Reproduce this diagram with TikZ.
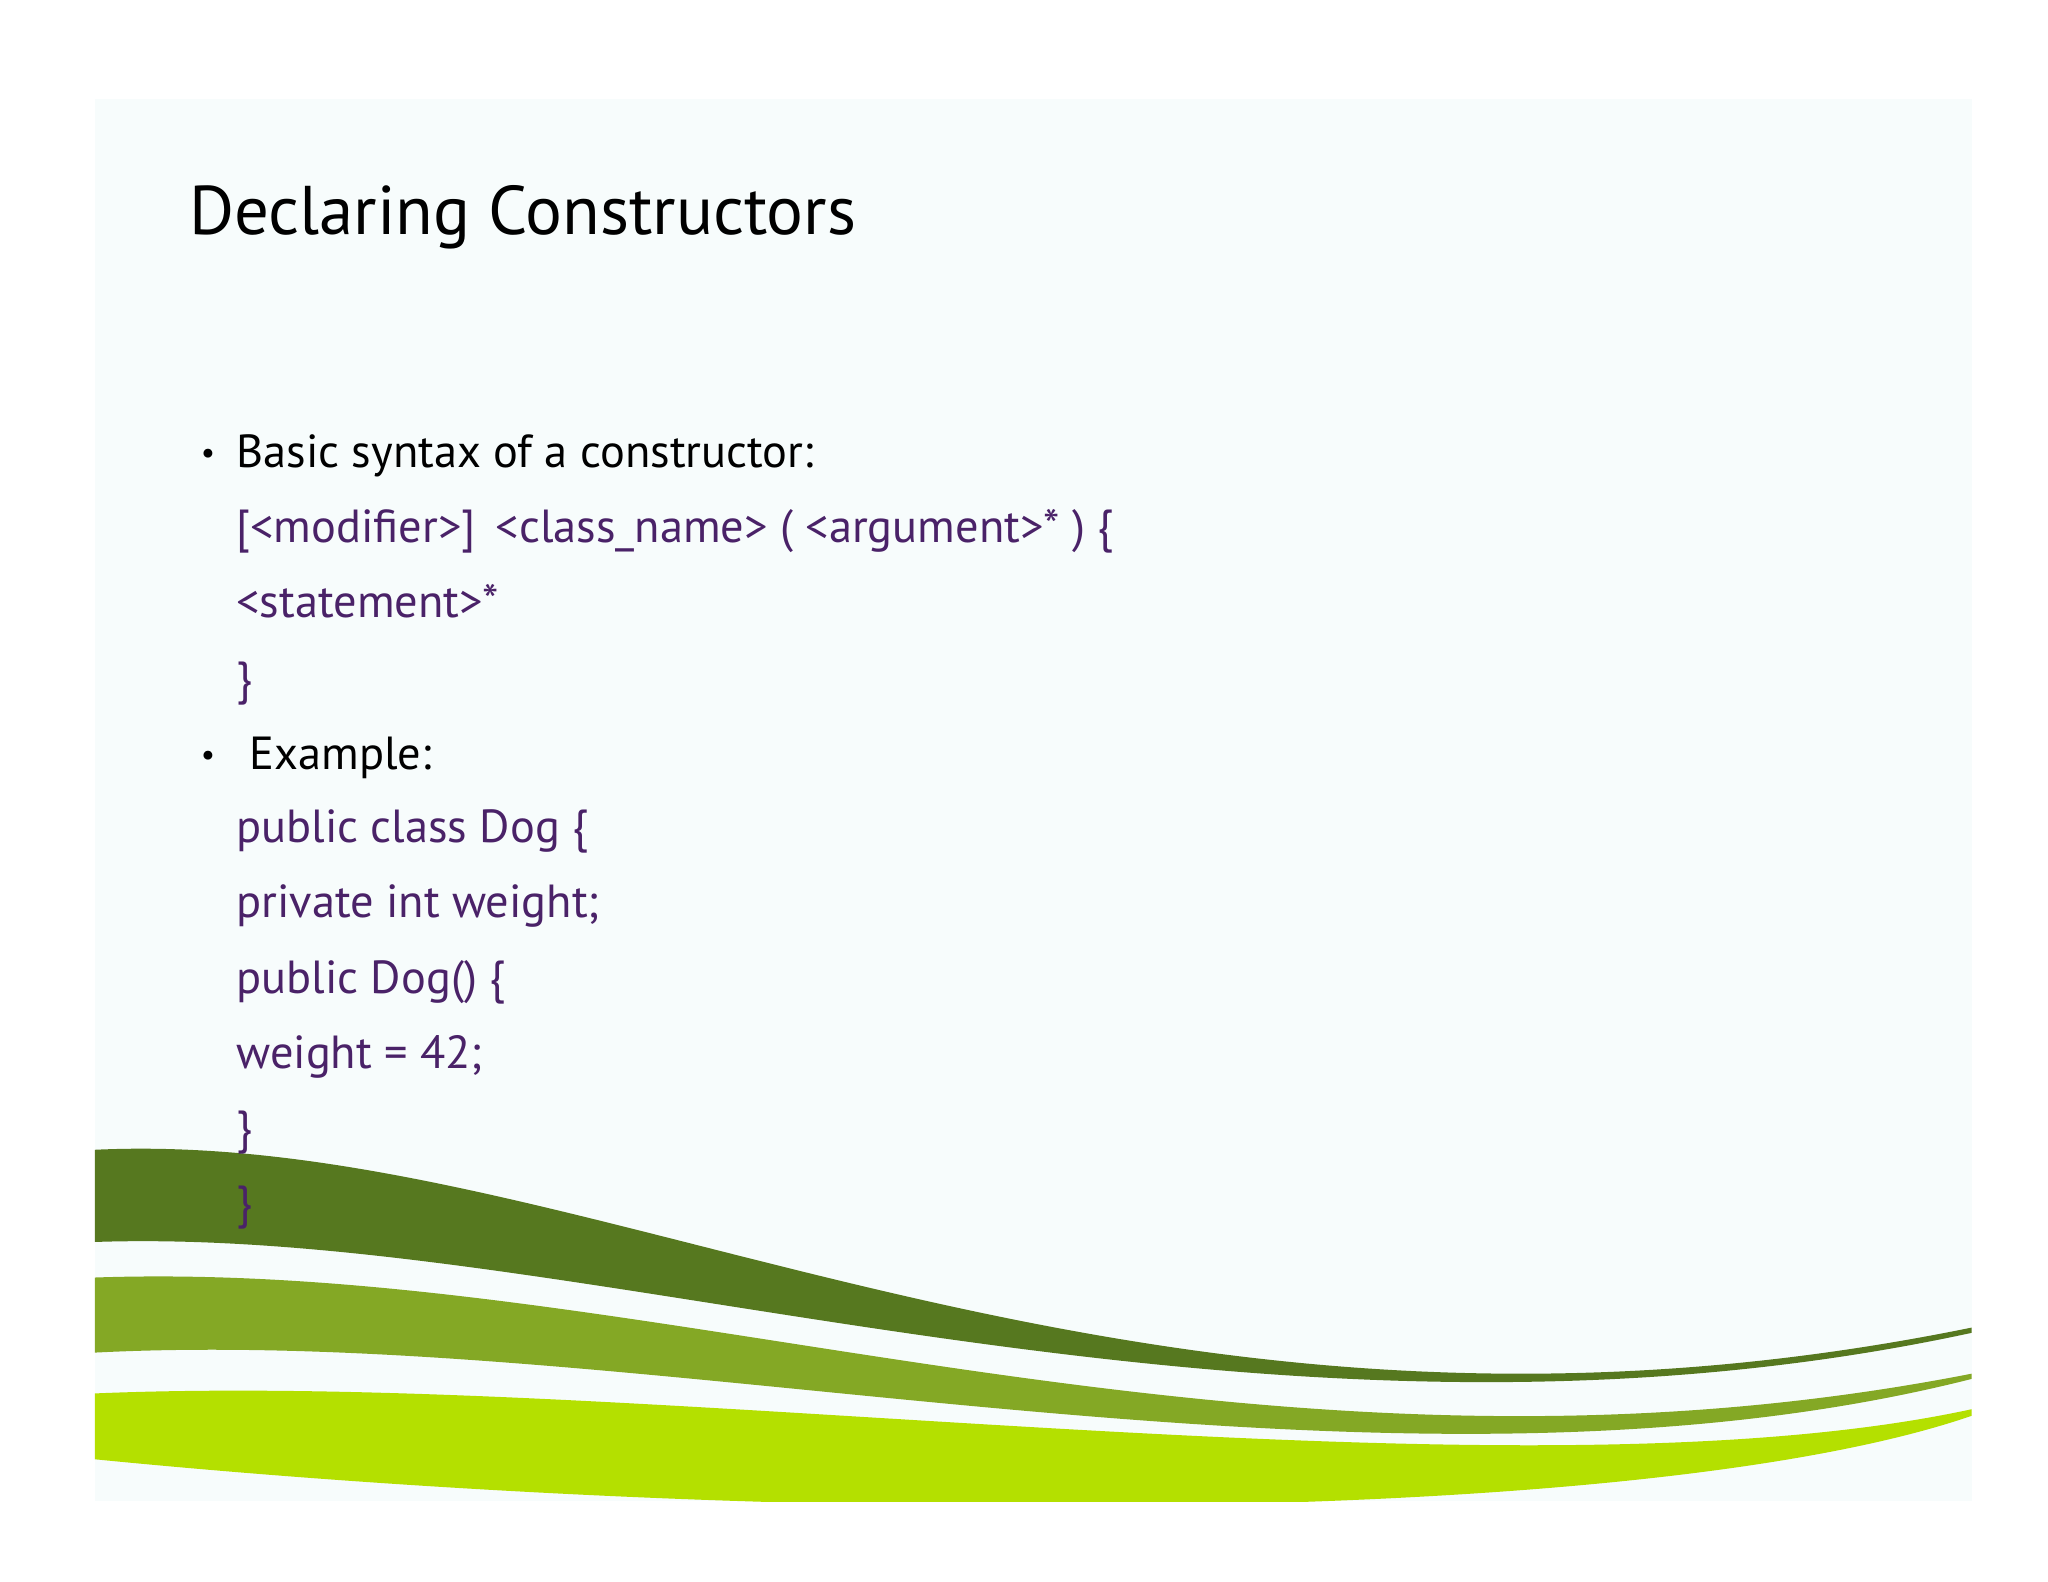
\documentclass[tikz,border=0pt]{standalone}
\usepackage{fontspec}
\setmainfont{PT Sans}
\usetikzlibrary{positioning}
\definecolor{slidebg}{HTML}{F7FCFC}
\definecolor{codepurple}{HTML}{4A2268}
\definecolor{darkwave}{HTML}{56781F}
\definecolor{midwave}{HTML}{84A825}
\definecolor{lightwave}{HTML}{B4E000}
\tikzset{title/.style={font=\fontsize{19.6}{19.6}\selectfont, anchor=base west, inner sep=0pt}}
\tikzset{txt/.style={font=\fontsize{13.2}{13.2}\selectfont, anchor=base west, inner sep=0pt}}
\tikzset{code/.style={txt, text=codepurple}}
\begin{document}
\begin{tikzpicture}[x=0.01317cm,y=-0.01317cm]
  \useasboundingbox (0,0) rectangle (1555,1201);
  \fill[white] (0,0) rectangle (1555,1201);
  \fill[slidebg] (72,75) rectangle (1497,1140);
  % waves
  \begin{scope}
    \clip (72,75) rectangle (1497,1140);
    \fill[lightwave] (72,1058) .. controls (500,1040) and (1150,1145) .. (1497,1070)
      -- (1497,1075) .. controls (1250,1160) and (600,1160) .. (72,1108) -- cycle;
    \fill[midwave] (72,970) .. controls (500,955) and (950,1150) .. (1497,1043)
      -- (1497,1047) .. controls (1050,1160) and (500,1005) .. (72,1027) -- cycle;
    \fill[darkwave] (72,873) .. controls (450,855) and (850,1140) .. (1497,1008)
      -- (1497,1012) .. controls (950,1130) and (450,930) .. (72,943) -- cycle;
  \end{scope}
  \node[title] (head) at (143,178) {Declaring Constructors};
  \node[txt] (b1) at (152,352) {\fontsize{9}{9}\selectfont•};
  \node[txt] (l1) at (179,355) {Basic syntax of a constructor:};
  \node[code] (l2) at (179,412) {[<modifier>]\, <class\_name> ( <argument>* ) \{};
  \node[code] (l3) at (179,469) {<statement>*};
  \node[code] (l4) at (179,527) {\}};
  \node[txt] (b2) at (152,581) {\fontsize{9}{9}\selectfont•};
  \node[txt] (l5) at (189,584) {Example:};
  \node[code] (l6) at (179,640) {public class Dog \{};
  \node[code] (l7) at (179,697) {private int weight;};
  \node[code] (l8) at (179,754) {public Dog() \{};
  \node[code] (l9) at (179,811) {weight = 42;};
  \node[code] (l10) at (179,868) {\}};
  \node[code] (l11) at (179,925) {\}};
\end{tikzpicture}
\end{document}
